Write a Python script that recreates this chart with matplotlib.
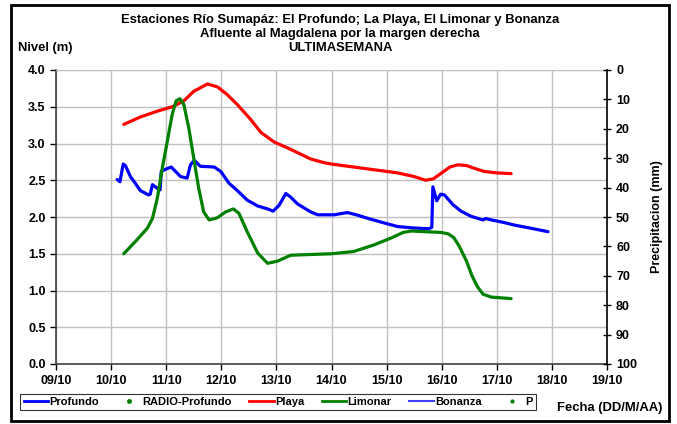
import numpy as np
import matplotlib
matplotlib.use('Agg')
import matplotlib.pyplot as plt
from matplotlib.lines import Line2D
from matplotlib.patches import Rectangle

plt.rcParams['font.family'] = ['Liberation Sans', 'DejaVu Sans']
plt.rcParams['font.weight'] = 'bold'

# days counted from 09/10
x_labels = ['09/10', '10/10', '11/10', '12/10', '13/10', '14/10',
            '15/10', '16/10', '17/10', '18/10', '19/10']

profundo_t = [1.11, 1.16, 1.22, 1.26, 1.35, 1.41, 1.53, 1.68, 1.71, 1.75, 1.84,
              1.89, 1.91, 1.99, 2.09, 2.17, 2.26, 2.38, 2.44, 2.51, 2.62, 2.87,
              2.99, 3.14, 3.29, 3.47, 3.66, 3.84, 3.94, 4.05, 4.17, 4.26, 4.38,
              4.62, 4.75, 5.05, 5.20, 5.29, 5.45, 5.71, 6.00, 6.20, 6.50, 6.77,
              6.82, 6.84, 6.91, 6.98, 7.05, 7.20, 7.35, 7.53, 7.75, 7.80, 7.90,
              8.10, 8.32, 8.60, 8.93]
profundo_v = [2.51, 2.48, 2.72, 2.70, 2.55, 2.49, 2.36, 2.30, 2.31, 2.44, 2.39,
              2.37, 2.62, 2.65, 2.68, 2.62, 2.55, 2.53, 2.71, 2.77, 2.69, 2.68,
              2.62, 2.46, 2.36, 2.23, 2.15, 2.11, 2.08, 2.16, 2.32, 2.27, 2.18,
              2.07, 2.03, 2.03, 2.05, 2.06, 2.03, 1.97, 1.91, 1.87, 1.85, 1.84,
              1.86, 2.41, 2.22, 2.31, 2.30, 2.17, 2.08, 2.01, 1.96, 1.98, 1.96,
              1.93, 1.89, 1.85, 1.80]

playa_t = [1.23, 1.53, 1.84, 2.11, 2.32, 2.50, 2.75, 2.93, 3.10, 3.29, 3.53,
           3.72, 3.96, 4.26, 4.62, 4.86, 5.00, 5.60, 6.20, 6.50, 6.71, 6.85,
           7.00, 7.15, 7.29, 7.45, 7.60, 7.77, 8.00, 8.26]
playa_v = [3.26, 3.36, 3.44, 3.50, 3.58, 3.71, 3.81, 3.77, 3.67, 3.53, 3.33,
           3.15, 3.02, 2.92, 2.79, 2.74, 2.72, 2.66, 2.60, 2.55, 2.50, 2.52,
           2.60, 2.68, 2.71, 2.70, 2.66, 2.62, 2.60, 2.59]

limonar_t = [1.23, 1.47, 1.66, 1.75, 1.84, 1.93, 2.02, 2.11, 2.18, 2.25, 2.32,
             2.41, 2.50, 2.59, 2.68, 2.78, 2.93, 3.08, 3.22, 3.32, 3.47, 3.66,
             3.84, 4.02, 4.26, 4.62, 5.00, 5.40, 5.77, 6.10, 6.30, 6.45, 6.70,
             6.99, 7.12, 7.22, 7.32, 7.45, 7.55, 7.65, 7.75, 7.90, 8.26]
limonar_v = [1.50, 1.69, 1.85, 1.98, 2.26, 2.67, 3.03, 3.40, 3.58, 3.61, 3.53,
             3.21, 2.80, 2.39, 2.07, 1.96, 1.99, 2.07, 2.11, 2.05, 1.80, 1.51,
             1.37, 1.40, 1.48, 1.49, 1.50, 1.53, 1.62, 1.72, 1.79, 1.81, 1.80,
             1.79, 1.77, 1.72, 1.60, 1.40, 1.20, 1.05, 0.95, 0.91, 0.89]

fig = plt.figure(figsize=(6.77, 4.24), dpi=100)
ax = fig.add_axes([56 / 677, 1 - 364 / 424, 551 / 677, 294 / 424])

line_kw = dict(lw=2.3, solid_joinstyle='round', solid_capstyle='round', zorder=3)
ax.plot(profundo_t, profundo_v, color='#0000ff', **line_kw)
ax.plot(playa_t, playa_v, color='#ff0000', **line_kw)
ax.plot(limonar_t, limonar_v, color='#008000', **line_kw)

ax.set_xlim(0, 10)
ax.set_ylim(0, 4)
ax.set_xticks(range(11))
ax.set_xticklabels(x_labels)
ax.set_yticks(np.arange(0, 4.01, 0.5))
ax.set_yticklabels(['%.1f' % v for v in np.arange(0, 4.01, 0.5)])
ax.grid(True, color='#c0c0c0', lw=1.0)
ax.set_axisbelow(True)
ax.tick_params(labelsize=9, length=4, width=1, colors='black')
ax.tick_params(axis='x', pad=4)
for s in ['left', 'bottom']:
    ax.spines[s].set_color('#404040')
    ax.spines[s].set_linewidth(1.2)
ax.spines['top'].set_color('#c0c0c0')
ax.spines['right'].set_visible(False)

ax2 = ax.twinx()
ax2.set_ylim(100, 0)
ax2.set_yticks(range(0, 101, 10))
ax2.tick_params(labelsize=9, length=6, width=1, direction='inout')
ax2.spines['right'].set_color('black')
ax2.spines['right'].set_linewidth(1.2)
for s in ['left', 'top', 'bottom']:
    ax2.spines[s].set_visible(False)
ax2.set_ylabel('Precipitacion (mm)', fontsize=9, fontweight='bold', labelpad=10)

fig.text(340 / 677, 1 - 20 / 424, 'Estaciones Río Sumapáz: El Profundo; La Playa, El Limonar y Bonanza',
         ha='center', va='center', fontsize=9.4, fontweight='bold')
fig.text(340 / 677, 1 - 34 / 424, 'Afluente al Magdalena por la margen derecha',
         ha='center', va='center', fontsize=9.4, fontweight='bold')
fig.text(340 / 677, 1 - 48 / 424, 'ULTIMASEMANA',
         ha='center', va='center', fontsize=9.4, fontweight='bold')
fig.text(18 / 677, 1 - 48 / 424, 'Nivel (m)', ha='left', va='center',
         fontsize=9.4, fontweight='bold')
fig.text(662 / 677, 1 - 408 / 424, 'Fecha (DD/M/AA)', ha='right', va='center',
         fontsize=9.4, fontweight='bold')

handles = [Line2D([], [], color='#0000ff', lw=2.0),
           Line2D([], [], color='#008000', ls='none', marker='o', ms=2.5),
           Line2D([], [], color='#ff0000', lw=2.0),
           Line2D([], [], color='#008000', lw=2.0),
           Line2D([], [], color='#4040ff', lw=1.5),
           Line2D([], [], color='#008000', ls='none', marker='o', ms=2)]
labels = ['Profundo', 'RADIO-Profundo', 'Playa', 'Limonar', 'Bonanza', 'P']
leg = fig.legend(handles, labels, loc='center', ncol=6,
                 bbox_to_anchor=(278 / 677, 1 - 402 / 424),
                 fontsize=8, frameon=True, fancybox=False, handlelength=2.2,
                 handletextpad=0.1, columnspacing=1.6, borderpad=0.3)
leg.get_frame().set_edgecolor('black')
leg.get_frame().set_linewidth(0.8)
for t in leg.get_texts():
    t.set_fontweight('bold')

fig.patches.append(Rectangle((11 / 677, 1 - 421 / 424), 658 / 677, 416 / 424,
                             transform=fig.transFigure, fill=False,
                             edgecolor='black', lw=2.0))

fig.savefig('out.png', dpi=100)
